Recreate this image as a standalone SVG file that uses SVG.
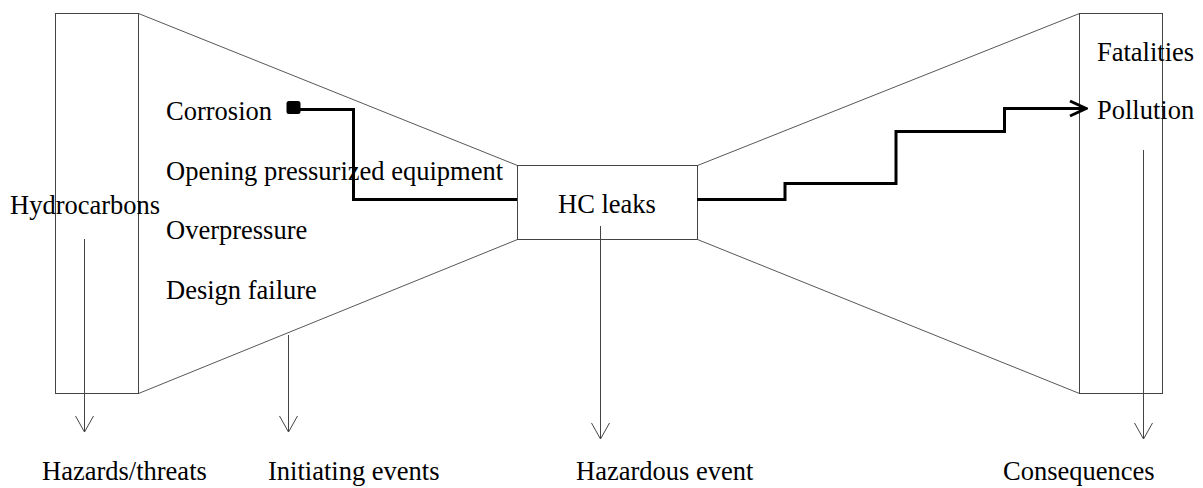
<svg xmlns="http://www.w3.org/2000/svg" width="1203" height="488" viewBox="0 0 1203 488">
  <style>
    .frame { fill: none; stroke: #444; stroke-width: 1; }
    .edge { fill: none; stroke: #444; stroke-width: 0.9; }
    .flow { fill: none; stroke: #000; stroke-width: 3; stroke-linejoin: miter; }
    .axis { fill: none; stroke: #444; stroke-width: 1; }
    .label { font-family: "Liberation Serif", "Times New Roman", serif; font-size: 26.5px; fill: #000; }
  </style>
  <defs>
    <marker id="openArrow" viewBox="0 0 20 20" refX="18" refY="10" markerWidth="20" markerHeight="20" markerUnits="userSpaceOnUse" orient="auto">
      <path d="M2,1 L18,10 L2,19" fill="none" stroke="#444" stroke-width="1"/>
    </marker>
    <marker id="flowArrow" viewBox="0 0 20 20" refX="18" refY="10" markerWidth="20" markerHeight="20" markerUnits="userSpaceOnUse" orient="auto">
      <path d="M2,2.5 L18,10 L2,17.5" fill="none" stroke="#000" stroke-width="3"/>
    </marker>
  </defs>

  <!-- Hazard column -->
  <g id="hazards">
    <rect class="frame" x="55.5" y="13.5" width="83" height="380"/>
    <text class="label" x="10" y="214">Hydrocarbons</text>
  </g>

  <!-- Funnel of initiating events -->
  <g id="initiating-events">
    <line class="edge" x1="138.5" y1="13.5" x2="517.5" y2="165.5"/>
    <line class="edge" x1="138.5" y1="393.5" x2="517.5" y2="239.5"/>
    <text class="label" x="166" y="120">Corrosion</text>
    <text class="label" x="166" y="180">Opening pressurized equipment</text>
    <text class="label" x="166" y="239">Overpressure</text>
    <text class="label" x="166" y="299">Design failure</text>
  </g>

  <!-- Central event -->
  <g id="hazardous-event">
    <rect class="frame" x="517.5" y="165.5" width="180" height="74" fill="#fff"/>
    <text class="label" x="558" y="213">HC leaks</text>
  </g>

  <!-- Funnel of consequences -->
  <g id="consequence-fan">
    <line class="edge" x1="697.5" y1="165.5" x2="1079.5" y2="13.5"/>
    <line class="edge" x1="697.5" y1="239.5" x2="1079.5" y2="393.5"/>
  </g>

  <g id="consequences">
    <rect class="frame" x="1079.5" y="13.5" width="83" height="380"/>
    <text class="label" x="1097" y="61">Fatalities</text>
    <text class="label" x="1097" y="119">Pollution</text>
  </g>

  <!-- Event path through the bow-tie -->
  <g id="connectors">
    <rect x="286.5" y="101" width="14" height="13" rx="2.5" fill="#000"/>
    <polyline class="flow" points="300,109.5 353.5,109.5 353.5,199.5 517,199.5"/>
    <polyline class="flow" points="697,199.5 785,199.5 785,183.5 896,183.5 896,131.5 1004.5,131.5 1004.5,108.5 1086,108.5" marker-end="url(#flowArrow)"/>

    <line class="axis" x1="84.5" y1="239" x2="84.5" y2="432" marker-end="url(#openArrow)"/>
    <line class="axis" x1="288.5" y1="335" x2="288.5" y2="432" marker-end="url(#openArrow)"/>
    <line class="axis" x1="600.5" y1="226" x2="600.5" y2="439" marker-end="url(#openArrow)"/>
    <line class="axis" x1="1143.5" y1="150" x2="1143.5" y2="439" marker-end="url(#openArrow)"/>
  </g>

  <!-- Category captions -->
  <g id="captions">
    <text class="label" x="42" y="480">Hazards/threats</text>
    <text class="label" x="268" y="480">Initiating events</text>
    <text class="label" x="576" y="480">Hazardous event</text>
    <text class="label" x="1003" y="480">Consequences</text>
  </g>
</svg>
